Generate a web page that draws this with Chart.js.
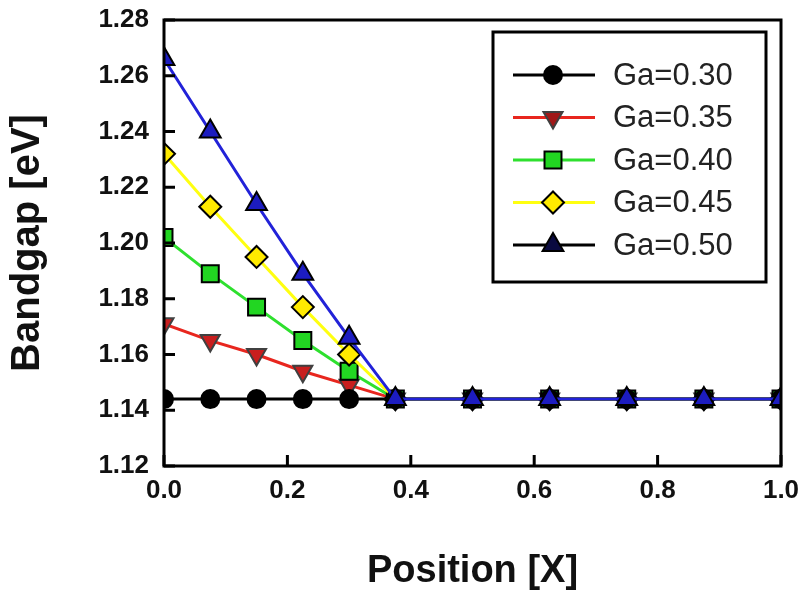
<!DOCTYPE html>
<html>
<head>
<meta charset="utf-8">
<script src="https://cdn.jsdelivr.net/npm/chart.js@4.4.1/dist/chart.umd.min.js"></script>
<style>
  body { margin: 0; background: #fff; }
  #wrap { width: 805px; height: 601px; }
</style>
</head>
<body>
<div id="wrap"><canvas id="bandgap" width="805" height="601"></canvas></div>
<script>
// values
const positions = [0, 0.075, 0.15, 0.225, 0.3, 0.375, 0.5, 0.625, 0.75, 0.875, 1.0]
const ga30 = [1.144, 1.144, 1.144, 1.144, 1.144, 1.144, 1.144, 1.144, 1.144, 1.144, 1.144]
const ga35 = [1.171, 1.165, 1.160, 1.154, 1.149, 1.144, 1.144, 1.144, 1.144, 1.144, 1.144]
const ga40 = [1.202, 1.189, 1.177, 1.165, 1.154, 1.144, 1.144, 1.144, 1.144, 1.144, 1.144]
const ga45 = [1.232, 1.213, 1.195, 1.177, 1.160, 1.144, 1.144, 1.144, 1.144, 1.144, 1.144]
const ga50 = [1.266, 1.240, 1.214, 1.189, 1.166, 1.144, 1.144, 1.144, 1.144, 1.144, 1.144]
const seriesNames = ['Ga=0.30', 'Ga=0.35', 'Ga=0.40', 'Ga=0.45', 'Ga=0.50']
const xTicks = [0, 0.2, 0.4, 0.6, 0.8, 1.0]
const yTicks = [1.12, 1.14, 1.16, 1.18, 1.20, 1.22, 1.24, 1.26, 1.28]

function toPoints(values) {
    return positions.map((x, i) => ({ x: x, y: values[i] }))
}

function series(name, values, line, fill, edge, style, radius, rotation, order) {
    return {
        label: name,
        data: toPoints(values),
        borderColor: line,
        borderWidth: 3,
        pointBackgroundColor: fill,
        pointBorderColor: edge,
        pointBorderWidth: 2,
        pointStyle: style,
        pointRadius: radius,
        pointRotation: rotation,
        order: order
    }
}

const datasets = [
    series(seriesNames[0], ga30, '#000000', '#000000', '#000000', 'circle', 9, 0, 1),
    series(seriesNames[1], ga35, '#e8261e', '#c81e1e', '#404040', 'triangle', 11, 180, 4),
    series(seriesNames[2], ga40, '#2ee02e', '#22d622', '#000000', 'rect', 12, 0, 3),
    series(seriesNames[3], ga45, '#ffff10', '#ffea00', '#000000', 'rectRot', 11, 0, 2),
    series(seriesNames[4], ga50, '#2222d8', '#1c1cc0', '#000000', 'triangle', 12, 0, 0)
]

// legend in the original shows the last line in black
const legendLineColors = ['#000000', '#e8261e', '#2ee02e', '#ffff10', '#000000']
const legendFillColors = ['#000000', '#a01818', '#22d622', '#ffea00', '#0a0a40']

const frameAndTicks = {
    id: 'frameAndTicks',
    afterDatasetsDraw(chart) {
        const { ctx, chartArea: a, scales } = chart
        ctx.save()
        ctx.strokeStyle = '#000'
        ctx.lineWidth = 3
        ctx.beginPath()
        for (const v of yTicks) {
            const py = scales.y.getPixelForValue(v)
            ctx.moveTo(a.left, py)
            ctx.lineTo(a.left + 11, py)
        }
        for (const v of xTicks) {
            const px = scales.x.getPixelForValue(v)
            ctx.moveTo(px, a.bottom)
            ctx.lineTo(px, a.bottom - 11)
        }
        ctx.stroke()
        ctx.strokeRect(a.left, a.top, a.right - a.left, a.bottom - a.top)

        // legend box
        const bx = 493, by = 32, bw = 273, bh = 250
        ctx.fillStyle = '#fff'
        ctx.fillRect(bx, by, bw, bh)
        ctx.strokeRect(bx, by, bw, bh)
        ctx.font = '31px "Liberation Sans", Arial, sans-serif'
        ctx.textBaseline = 'middle'
        chart.data.datasets.forEach((ds, i) => {
            const ry = 75 + i * 42.5
            ctx.strokeStyle = legendLineColors[i]
            ctx.lineWidth = 3
            ctx.beginPath()
            ctx.moveTo(513, ry)
            ctx.lineTo(595, ry)
            ctx.stroke()
            ctx.fillStyle = legendFillColors[i]
            ctx.strokeStyle = ds.pointBorderColor
            ctx.lineWidth = 2
            Chart.helpers.drawPoint(ctx, {
                pointStyle: ds.pointStyle,
                rotation: ds.pointRotation,
                radius: ds.pointRadius,
                borderWidth: 2
            }, 553, ry)
            ctx.fillStyle = '#222'
            ctx.fillText(ds.label, 613, ry + 1)
        })
        ctx.restore()
    }
}

const boldTick = { family: '"Liberation Sans", Arial, sans-serif', size: 26, weight: 'bold' }
const xTitleFont = { family: '"Liberation Sans", Arial, sans-serif', size: 38, weight: 'bold' }
const yTitleFont = { family: '"Liberation Sans", Arial, sans-serif', size: 40, weight: 'bold' }

new Chart(document.getElementById('bandgap'), {
    type: 'line',
    data: { datasets: datasets },
    plugins: [frameAndTicks],
    options: {
        responsive: false,
        animation: false,
        layout: { padding: { top: 20, right: 24, left: 0, bottom: 0 } },
        plugins: { legend: { display: false }, tooltip: { enabled: false } },
        elements: { line: { tension: 0 } },
        scales: {
            x: {
                type: 'linear',
                min: 0,
                max: 1,
                afterBuildTicks: (scale) => { scale.ticks = xTicks.map(v => ({ value: v })) },
                afterFit: (scale) => {
                    scale.height = 135
                    scale.paddingLeft = 0
                    scale.paddingRight = 0
                },
                ticks: { color: '#111', font: boldTick, padding: 9, callback: v => v.toFixed(1), maxRotation: 0 },
                grid: { display: false, drawTicks: false },
                border: { display: false },
                title: { display: true, text: 'Position [X]', color: '#111', font: xTitleFont, padding: { top: 0, bottom: 7 } }
            },
            y: {
                type: 'linear',
                min: 1.12,
                max: 1.28,
                afterBuildTicks: (scale) => { scale.ticks = yTicks.map(v => ({ value: v })) },
                afterFit: (scale) => {
                    scale.width = 164
                    scale.paddingTop = 0
                    scale.paddingBottom = 0
                },
                ticks: { color: '#111', font: boldTick, padding: 15, callback: v => v.toFixed(2) },
                grid: { display: false, drawTicks: false },
                border: { display: false },
                title: { display: true, text: 'Bandgap [eV]', color: '#111', font: yTitleFont, padding: { top: 4, bottom: 0 } }
            }
        }
    }
})
</script>
</body>
</html>
